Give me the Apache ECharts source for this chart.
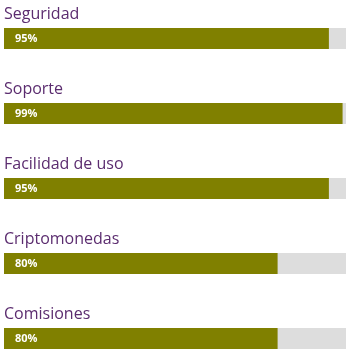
<!DOCTYPE html>
<html>
<head>
<meta charset="utf-8">
<script src="https://cdn.jsdelivr.net/npm/echarts@6/dist/echarts.min.js"></script>
<style>html,body{margin:0;padding:0;background:#fff}#c{width:351px;height:359px}</style>
</head>
<body>
<div id="c"></div>
<script>
const categories = ['Seguridad', 'Soporte', 'Facilidad de uso', 'Criptomonedas', 'Comisiones'];
const values = [95, 99, 95, 80, 80];

const chart = echarts.init(document.getElementById('c'));
chart.setOption({
  animation: false,
  grid: { left: 4, right: 5, top: 38.5, height: 300 },
  xAxis: { type: 'value', min: 0, max: 100, show: false },
  yAxis: { type: 'category', data: categories, inverse: true, boundaryGap: false, show: false },
  series: [
    {
      type: 'bar',
      data: values,
      barWidth: 21,
      itemStyle: { color: '#808000' },
      showBackground: true,
      backgroundStyle: { color: '#dddddd' },
      label: {
        show: true,
        position: [11, 11],
        align: 'left',
        verticalAlign: 'middle',
        formatter: '{c}%',
        color: '#ffffff',
        fontFamily: 'Open Sans',
        fontWeight: 'bold',
        fontSize: 11
      },
      z: 2
    },
    {
      type: 'bar',
      data: values,
      barWidth: 21,
      barGap: '-100%',
      itemStyle: { color: 'transparent' },
      label: {
        show: true,
        position: [0, -14],
        align: 'left',
        verticalAlign: 'middle',
        formatter: '{b}',
        color: '#5b2c6f',
        fontFamily: 'Open Sans',
        fontSize: 16
      },
      silent: true,
      z: 3
    }
  ]
});
</script>
</body>
</html>
